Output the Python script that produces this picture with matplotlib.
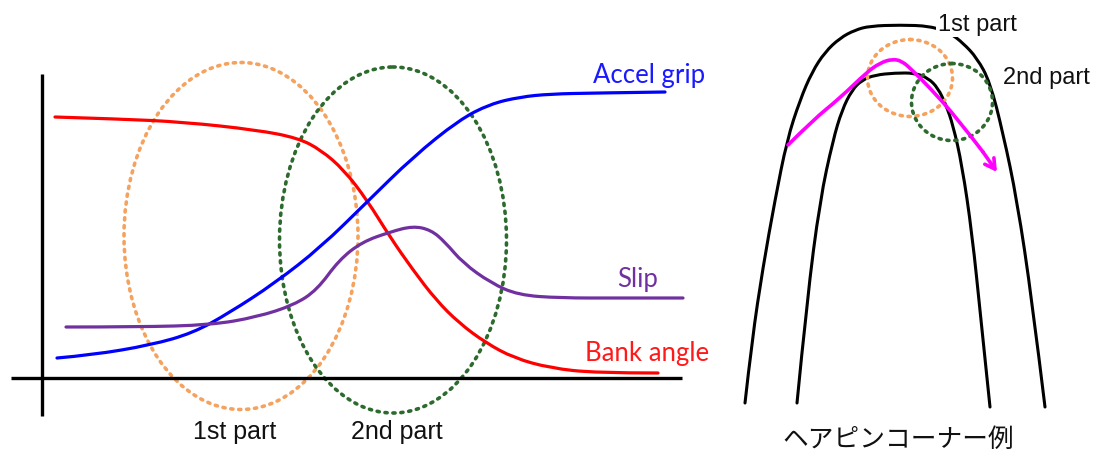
import matplotlib
matplotlib.use("Agg")
import matplotlib.pyplot as plt
from matplotlib.patches import Ellipse, PathPatch
from matplotlib.path import Path

# ---------------- data (image-like coordinates, y grows downward) ----------------
# Left chart curves
bank_x = [55, 120, 183, 257, 298, 321, 344, 367, 390, 413, 436, 459, 486, 514, 550, 596, 658]
bank_y = [117, 119, 122, 130, 138, 150, 170, 200, 237, 270, 300, 323, 343, 358, 368, 373, 373]

accel_x = [57, 92, 151, 193, 229, 275, 321, 367, 413, 459, 490, 520, 550, 596, 665]
accel_y = [358, 355, 345, 333, 313, 283, 247, 202, 157, 120, 104, 97, 94, 93, 92]

slip_x = [66, 138, 211, 257, 294, 317, 339, 362, 390, 413, 431, 445, 463, 491, 518, 560, 619, 683]
slip_y = [327, 327, 325, 317, 305, 290, 260, 242, 232, 226, 230, 242, 263, 283, 295, 298, 298, 298]

# phase ellipses: (center x, center y, width, height)
phase_names = ["1st part", "2nd part"]
phase_ellipses = [(241, 236, 234, 347), (393, 240, 227, 346)]

# Right diagram: hairpin track edges and racing line
outer_x = [745, 752, 763, 775, 787, 800, 812, 825, 840, 855, 870, 900, 930, 950, 963, 977, 990, 1003, 1017, 1032, 1045]
outer_y = [403, 340, 267, 200, 140, 100, 72, 52, 38, 30, 26, 25, 26, 33, 43, 58, 82, 133, 200, 300, 407]

inner_x = [797, 807, 820, 833, 842, 852, 862, 875, 895, 915, 928, 938, 946, 953, 962, 972, 981, 990]
inner_y = [403, 300, 200, 140, 110, 90, 80, 75, 73, 73, 78, 88, 105, 125, 165, 233, 320, 407]

line_x = [788, 813, 840, 867, 880, 892, 902, 912, 930, 957, 983, 997]
line_y = [145, 120, 98, 72, 63, 59, 61, 70, 88, 118, 152, 172]

corner_circles = [(910, 78, 85, 77), (952, 102, 81, 77)]


def smooth_path(xs, ys):
    """Quadratic Bezier path that uses the read points as control points."""
    verts = [(xs[0], ys[0])]
    codes = [Path.MOVETO]
    n = len(xs)
    for i in range(1, n - 1):
        mx = (xs[i] + xs[i + 1]) / 2 if i < n - 2 else xs[i + 1]
        my = (ys[i] + ys[i + 1]) / 2 if i < n - 2 else ys[i + 1]
        verts += [(xs[i], ys[i]), (mx, my)]
        codes += [Path.CURVE3, Path.CURVE3]
    if n == 2:
        verts.append((xs[1], ys[1]))
        codes.append(Path.LINETO)
    return Path(verts, codes)


def draw_curve(ax, xs, ys, color, lw, z=2):
    ax.add_patch(PathPatch(smooth_path(xs, ys), fill=False, edgecolor=color, lw=lw,
                           joinstyle="round", capstyle="round", zorder=z))


# ---------------- figure ----------------
fig = plt.figure(figsize=(11.01, 4.54), dpi=100)
ax = fig.add_axes([0, 0, 1, 1])
ax.set_xlim(0, 1101)
ax.set_ylim(454, 0)
ax.axis("off")

# chart axes
ax.plot([42, 42], [74, 416], color="black", lw=2.4, solid_capstyle="butt")
ax.plot([11, 682], [378, 378], color="black", lw=2.4, solid_capstyle="butt")

ecolors = ["#f4a25e", "#2d6a2e"]
for (cx, cy, w, h), c in zip(phase_ellipses, ecolors):
    ax.add_patch(Ellipse((cx, cy), w, h, fill=False, edgecolor=c, lw=2.6,
                         linestyle=(0, (0.6, 1.6)), capstyle="round"))

draw_curve(ax, bank_x, bank_y, "#ff0000", 2.3)
draw_curve(ax, accel_x, accel_y, "#0000ff", 2.3)
draw_curve(ax, slip_x, slip_y, "#7030a0", 2.3)

lab_font = "Lato"
ax.text(649, 75, "Accel grip", color="#1a1aff", fontsize=18.5, family=lab_font,
        ha="center", va="center")
ax.text(638, 279, "Slip", color="#7030a0", fontsize=18.5, family=lab_font,
        ha="center", va="center")
ax.text(647, 353, "Bank angle", color="#ff1a1a", fontsize=18.5, family=lab_font,
        ha="center", va="center")

ax.text(235, 432, phase_names[0], color="#111111", fontsize=18,
        family="Liberation Sans", ha="center", va="center")
ax.text(397, 432, phase_names[1], color="#111111", fontsize=18,
        family="Liberation Sans", ha="center", va="center")

# right diagram
draw_curve(ax, outer_x, outer_y, "black", 2.2)
draw_curve(ax, inner_x, inner_y, "black", 2.2)

for (cx, cy, w, h), c in zip(corner_circles, ecolors):
    ax.add_patch(Ellipse((cx, cy), w, h, fill=False, edgecolor=c, lw=2.6,
                         linestyle=(0, (0.6, 1.6)), capstyle="round", zorder=3))

draw_curve(ax, line_x[:-1], line_y[:-1], "#ff00ff", 2.6, z=4)
ax.annotate("", xy=(line_x[-1], line_y[-1]), xytext=(line_x[-2], line_y[-2]),
            arrowprops=dict(arrowstyle="->,head_length=0.7,head_width=0.4",
                            color="#ff00ff", lw=2.6, shrinkA=0, shrinkB=0),
            zorder=4)

ax.text(977, 25, phase_names[0], color="#111111", fontsize=17,
        family="Liberation Sans", ha="center", va="center", zorder=5,
        bbox=dict(boxstyle="square,pad=0.05", fc="white", ec="none"))
ax.text(1046, 78, phase_names[1], color="#111111", fontsize=17,
        family="Liberation Sans", ha="center", va="center", zorder=5)

ax.text(898, 440, "ヘアピンコーナー例", color="#111111", fontsize=18.5,
        family=["Noto Sans CJK JP", "DejaVu Sans"], ha="center", va="center")

fig.savefig("out.png", dpi=100, facecolor="white")
